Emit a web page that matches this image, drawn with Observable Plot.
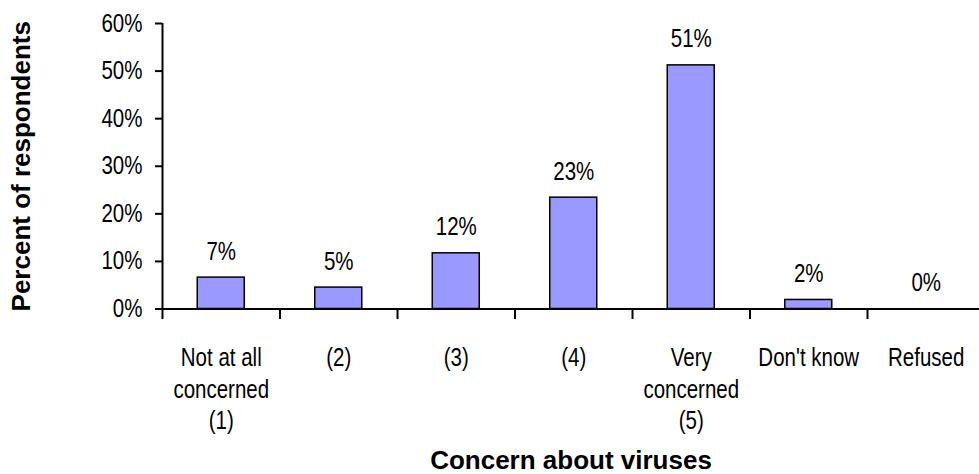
<!DOCTYPE html>
<html>
<head>
<meta charset="utf-8">
<script src="https://cdn.jsdelivr.net/npm/d3@7"></script>
<script src="https://cdn.jsdelivr.net/npm/@observablehq/plot@0.6"></script>
<style>
  html, body { margin: 0; padding: 0; background: #fff; }
  #chart svg { display: block; }
</style>
</head>
<body>
<div id="chart"></div>
<script>
const categories = ["Not at all\nconcerned\n(1)", "(2)", "(3)", "(4)", "Very\nconcerned\n(5)", "Don't know", "Refused"];
const values = [6.6, 4.5, 11.7, 23.4, 51.2, 1.9, 0];
const valueLabels = ["7%", "5%", "12%", "23%", "51%", "2%", "0%"];
const yTicks = [0, 10, 20, 30, 40, 50, 60];
const xTitle = "Concern about viruses";
const yTitle = "Percent of respondents";

const data = categories.map((c, i) => ({i, cat: c, value: values[i], label: valueLabels[i]}));
const boundaries = d3.range(0, categories.length + 1);
const centers = categories.map((c, i) => i + 0.5);

const sans = "'Liberation Sans', Arial, Helvetica, sans-serif";

const chart = Plot.plot({
  width: 979,
  height: 474,
  marginLeft: 162,
  marginRight: 0,
  marginTop: 23,
  marginBottom: 165.5,
  style: {fontFamily: sans, fontSize: "25px", color: "#000", background: "#fff"},
  x: {domain: [0, categories.length], range: [162, 984.5]},
  y: {domain: [0, 60]},
  marks: [
    Plot.rectY(data, {x1: d => d.i + 0.3, x2: d => d.i + 0.7, y: "value", fill: "#9999ff", stroke: "#000", strokeWidth: 1.5}),
    Plot.text(data, {x: d => d.i + 0.5, y: "value", text: "label", dy: -26, lineAnchor: "middle", fontSize: 25, fill: "#000", className: "narrow"}),
    Plot.axisY({ticks: yTicks, tickFormat: d => d + "%", tickSize: 7, tickPadding: 13, strokeWidth: 2, fontSize: 25, label: null, className: "narrow"}),
    Plot.ruleX([0], {y1: 0, y2: 60, strokeWidth: 2}),
    Plot.ruleY([0], {strokeWidth: 2}),
    Plot.axisX({ticks: boundaries, tickFormat: () => "", tickSize: 10.5, strokeWidth: 2, label: null}),
    Plot.axisX({ticks: centers, tickFormat: t => categories[Math.floor(t)], tickSize: 0, tickPadding: 35, lineHeight: 1.26, fontSize: 25, label: null, className: "narrow"}),
    Plot.text([xTitle], {frameAnchor: "bottom", dy: 152, lineAnchor: "middle", fontWeight: "bold", fontSize: 26, fill: "#000"}),
    Plot.text([yTitle], {frameAnchor: "left", dx: -140.5, rotate: -90, lineAnchor: "middle", textAnchor: "middle", fontWeight: "bold", fontSize: 26, fill: "#000"})
  ]
});

// Condense the regular-weight labels horizontally (Arial Narrow look)
d3.select(chart).selectAll("g[aria-label] text").each(function() {
  const g = this.parentNode;
  const cls = (g.getAttribute("class") || "") + " " + (g.parentNode && g.parentNode.getAttribute ? (g.parentNode.getAttribute("class") || "") : "");
  if (!/narrow/.test(cls)) return;
  const t = this.getAttribute("transform");
  if (t) {
    this.setAttribute("transform", t + " scale(0.82,1)");
  } else {
    const x = +this.getAttribute("x") || 0;
    const y = +this.getAttribute("y") || 0;
    this.setAttribute("transform", `translate(${x},${y}) scale(0.82,1) translate(${-x},${-y})`);
  }
});

document.getElementById("chart").appendChild(chart);
</script>
</body>
</html>
